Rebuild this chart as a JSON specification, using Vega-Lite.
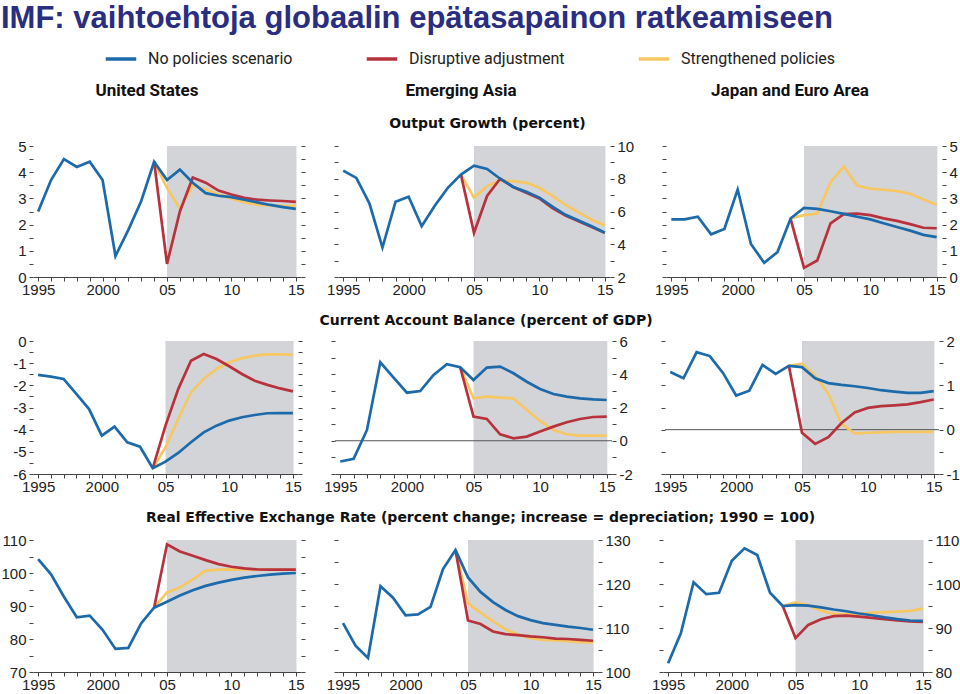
{
"$schema": "https://vega.github.io/schema/vega-lite/v6.json",
"padding": {"top": 3, "left": 0, "right": 0, "bottom": 0},
"background": "white",
"config": {"view": {"stroke": null}, "font": "Liberation Sans",
 "axis": {"grid": false, "title": null, "minExtent": 0, "labelFontSize": 15, "labelColor": "#222", "tickColor": "#444", "tickSize": 4, "labelFont": "Liberation Sans"},
 "axisX": {"labelOverlap": false, "labelFlush": false, "domainColor": "#444", "labelPadding": 1},
 "axisY": {"domain": false, "labelPadding": 3, "labelOverlap": false, "minExtent": 0}},
"title": {"text": "IMF: vaihtoehtoja globaalin epätasapainon ratkeamiseen", "anchor": "start", "frame": "bounds", "fontSize": 31, "font": "Liberation Sans", "fontWeight": "bold", "color": "#2a2d80", "offset": 7},
"resolve": {"scale": {"color": "shared"}, "legend": {"color": "shared"}},
"spacing": 6,
"datasets": {"d": [
{"p":1,"k":"S","y":2004,"v":4.4},{"p":1,"k":"S","y":2005,"v":3.4},{"p":1,"k":"S","y":2006,"v":2.6},{"p":1,"k":"S","y":2007,"v":3.5},{"p":1,"k":"S","y":2008,"v":3.35},{"p":1,"k":"S","y":2009,"v":3.15},{"p":1,"k":"S","y":2010,"v":3.0},{"p":1,"k":"S","y":2011,"v":2.85},{"p":1,"k":"S","y":2012,"v":2.75},{"p":1,"k":"S","y":2013,"v":2.73},{"p":1,"k":"S","y":2014,"v":2.72},{"p":1,"k":"S","y":2015,"v":2.72},
{"p":2,"k":"S","y":2004,"v":8.25},{"p":2,"k":"S","y":2005,"v":6.85},{"p":2,"k":"S","y":2006,"v":7.55},{"p":2,"k":"S","y":2007,"v":7.9},{"p":2,"k":"S","y":2008,"v":7.85},{"p":2,"k":"S","y":2009,"v":7.75},{"p":2,"k":"S","y":2010,"v":7.45},{"p":2,"k":"S","y":2011,"v":6.95},{"p":2,"k":"S","y":2012,"v":6.4},{"p":2,"k":"S","y":2013,"v":5.95},{"p":2,"k":"S","y":2014,"v":5.5},{"p":2,"k":"S","y":2015,"v":5.15},
{"p":3,"k":"S","y":2004,"v":2.24},{"p":3,"k":"S","y":2005,"v":2.36},{"p":3,"k":"S","y":2006,"v":2.42},{"p":3,"k":"S","y":2007,"v":3.62},{"p":3,"k":"S","y":2008,"v":4.22},{"p":3,"k":"S","y":2009,"v":3.49},{"p":3,"k":"S","y":2010,"v":3.37},{"p":3,"k":"S","y":2011,"v":3.33},{"p":3,"k":"S","y":2012,"v":3.28},{"p":3,"k":"S","y":2013,"v":3.18},{"p":3,"k":"S","y":2014,"v":2.96},{"p":3,"k":"S","y":2015,"v":2.76},
{"p":4,"k":"S","y":2004,"v":-5.74},{"p":4,"k":"S","y":2005,"v":-4.8},{"p":4,"k":"S","y":2006,"v":-3.52},{"p":4,"k":"S","y":2007,"v":-2.32},{"p":4,"k":"S","y":2008,"v":-1.71},{"p":4,"k":"S","y":2009,"v":-1.26},{"p":4,"k":"S","y":2010,"v":-0.96},{"p":4,"k":"S","y":2011,"v":-0.78},{"p":4,"k":"S","y":2012,"v":-0.66},{"p":4,"k":"S","y":2013,"v":-0.6},{"p":4,"k":"S","y":2014,"v":-0.6},{"p":4,"k":"S","y":2015,"v":-0.62},
{"p":5,"k":"S","y":2004,"v":4.42},{"p":5,"k":"S","y":2005,"v":2.55},{"p":5,"k":"S","y":2006,"v":2.65},{"p":5,"k":"S","y":2007,"v":2.59},{"p":5,"k":"S","y":2008,"v":2.55},{"p":5,"k":"S","y":2009,"v":1.85},{"p":5,"k":"S","y":2010,"v":1.19},{"p":5,"k":"S","y":2011,"v":0.65},{"p":5,"k":"S","y":2012,"v":0.39},{"p":5,"k":"S","y":2013,"v":0.31},{"p":5,"k":"S","y":2014,"v":0.31},{"p":5,"k":"S","y":2015,"v":0.31},
{"p":6,"k":"S","y":2004,"v":1.44},{"p":6,"k":"S","y":2005,"v":1.49},{"p":6,"k":"S","y":2006,"v":1.22},{"p":6,"k":"S","y":2007,"v":0.81},{"p":6,"k":"S","y":2008,"v":0.13},{"p":6,"k":"S","y":2009,"v":-0.09},{"p":6,"k":"S","y":2010,"v":-0.07},{"p":6,"k":"S","y":2011,"v":-0.06},{"p":6,"k":"S","y":2012,"v":-0.05},{"p":6,"k":"S","y":2013,"v":-0.05},{"p":6,"k":"S","y":2014,"v":-0.05},{"p":6,"k":"S","y":2015,"v":-0.05},
{"p":7,"k":"S","y":2004,"v":89.5},{"p":7,"k":"S","y":2005,"v":94.1},{"p":7,"k":"S","y":2006,"v":95.6},{"p":7,"k":"S","y":2007,"v":98.1},{"p":7,"k":"S","y":2008,"v":100.7},{"p":7,"k":"S","y":2009,"v":101.0},{"p":7,"k":"S","y":2010,"v":101.1},{"p":7,"k":"S","y":2011,"v":101.0},{"p":7,"k":"S","y":2012,"v":101.0},{"p":7,"k":"S","y":2013,"v":101.0},{"p":7,"k":"S","y":2014,"v":101.0},{"p":7,"k":"S","y":2015,"v":101.0},
{"p":8,"k":"S","y":2004,"v":127.7},{"p":8,"k":"S","y":2005,"v":115.6},{"p":8,"k":"S","y":2006,"v":113.5},{"p":8,"k":"S","y":2007,"v":111.5},{"p":8,"k":"S","y":2008,"v":109.7},{"p":8,"k":"S","y":2009,"v":108.5},{"p":8,"k":"S","y":2010,"v":107.7},{"p":8,"k":"S","y":2011,"v":107.3},{"p":8,"k":"S","y":2012,"v":107.2},{"p":8,"k":"S","y":2013,"v":107.0},{"p":8,"k":"S","y":2014,"v":106.8},{"p":8,"k":"S","y":2015,"v":106.7},
{"p":9,"k":"S","y":2004,"v":95.0},{"p":9,"k":"S","y":2005,"v":95.8},{"p":9,"k":"S","y":2006,"v":95.2},{"p":9,"k":"S","y":2007,"v":93.9},{"p":9,"k":"S","y":2008,"v":93.2},{"p":9,"k":"S","y":2009,"v":93.1},{"p":9,"k":"S","y":2010,"v":93.2},{"p":9,"k":"S","y":2011,"v":93.5},{"p":9,"k":"S","y":2012,"v":93.6},{"p":9,"k":"S","y":2013,"v":93.7},{"p":9,"k":"S","y":2014,"v":93.9},{"p":9,"k":"S","y":2015,"v":94.4},
{"p":1,"k":"D","y":2004,"v":4.4},{"p":1,"k":"D","y":2005,"v":0.5},{"p":1,"k":"D","y":2006,"v":2.5},{"p":1,"k":"D","y":2007,"v":3.8},{"p":1,"k":"D","y":2008,"v":3.6},{"p":1,"k":"D","y":2009,"v":3.3},{"p":1,"k":"D","y":2010,"v":3.15},{"p":1,"k":"D","y":2011,"v":3.02},{"p":1,"k":"D","y":2012,"v":2.95},{"p":1,"k":"D","y":2013,"v":2.92},{"p":1,"k":"D","y":2014,"v":2.9},{"p":1,"k":"D","y":2015,"v":2.87},
{"p":2,"k":"D","y":2004,"v":8.25},{"p":2,"k":"D","y":2005,"v":4.7},{"p":2,"k":"D","y":2006,"v":6.95},{"p":2,"k":"D","y":2007,"v":8.0},{"p":2,"k":"D","y":2008,"v":7.5},{"p":2,"k":"D","y":2009,"v":7.15},{"p":2,"k":"D","y":2010,"v":6.8},{"p":2,"k":"D","y":2011,"v":6.2},{"p":2,"k":"D","y":2012,"v":5.75},{"p":2,"k":"D","y":2013,"v":5.4},{"p":2,"k":"D","y":2014,"v":5.05},{"p":2,"k":"D","y":2015,"v":4.7},
{"p":3,"k":"D","y":2004,"v":2.2},{"p":3,"k":"D","y":2005,"v":0.35},{"p":3,"k":"D","y":2006,"v":0.63},{"p":3,"k":"D","y":2007,"v":2.05},{"p":3,"k":"D","y":2008,"v":2.4},{"p":3,"k":"D","y":2009,"v":2.42},{"p":3,"k":"D","y":2010,"v":2.36},{"p":3,"k":"D","y":2011,"v":2.24},{"p":3,"k":"D","y":2012,"v":2.14},{"p":3,"k":"D","y":2013,"v":2.02},{"p":3,"k":"D","y":2014,"v":1.88},{"p":3,"k":"D","y":2015,"v":1.86},
{"p":4,"k":"D","y":2004,"v":-5.74},{"p":4,"k":"D","y":2005,"v":-3.82},{"p":4,"k":"D","y":2006,"v":-2.17},{"p":4,"k":"D","y":2007,"v":-0.89},{"p":4,"k":"D","y":2008,"v":-0.59},{"p":4,"k":"D","y":2009,"v":-0.81},{"p":4,"k":"D","y":2010,"v":-1.14},{"p":4,"k":"D","y":2011,"v":-1.49},{"p":4,"k":"D","y":2012,"v":-1.79},{"p":4,"k":"D","y":2013,"v":-1.98},{"p":4,"k":"D","y":2014,"v":-2.14},{"p":4,"k":"D","y":2015,"v":-2.27},
{"p":5,"k":"D","y":2004,"v":4.42},{"p":5,"k":"D","y":2005,"v":1.45},{"p":5,"k":"D","y":2006,"v":1.31},{"p":5,"k":"D","y":2007,"v":0.39},{"p":5,"k":"D","y":2008,"v":0.15},{"p":5,"k":"D","y":2009,"v":0.25},{"p":5,"k":"D","y":2010,"v":0.55},{"p":5,"k":"D","y":2011,"v":0.85},{"p":5,"k":"D","y":2012,"v":1.11},{"p":5,"k":"D","y":2013,"v":1.31},{"p":5,"k":"D","y":2014,"v":1.43},{"p":5,"k":"D","y":2015,"v":1.45},
{"p":6,"k":"D","y":2004,"v":1.44},{"p":6,"k":"D","y":2005,"v":-0.07},{"p":6,"k":"D","y":2006,"v":-0.32},{"p":6,"k":"D","y":2007,"v":-0.17},{"p":6,"k":"D","y":2008,"v":0.15},{"p":6,"k":"D","y":2009,"v":0.39},{"p":6,"k":"D","y":2010,"v":0.49},{"p":6,"k":"D","y":2011,"v":0.53},{"p":6,"k":"D","y":2012,"v":0.55},{"p":6,"k":"D","y":2013,"v":0.57},{"p":6,"k":"D","y":2014,"v":0.62},{"p":6,"k":"D","y":2015,"v":0.68},
{"p":7,"k":"D","y":2004,"v":89.5},{"p":7,"k":"D","y":2005,"v":108.7},{"p":7,"k":"D","y":2006,"v":106.5},{"p":7,"k":"D","y":2007,"v":105.2},{"p":7,"k":"D","y":2008,"v":103.9},{"p":7,"k":"D","y":2009,"v":102.7},{"p":7,"k":"D","y":2010,"v":101.9},{"p":7,"k":"D","y":2011,"v":101.4},{"p":7,"k":"D","y":2012,"v":101.1},{"p":7,"k":"D","y":2013,"v":101.0},{"p":7,"k":"D","y":2014,"v":101.0},{"p":7,"k":"D","y":2015,"v":101.0},
{"p":8,"k":"D","y":2004,"v":127.7},{"p":8,"k":"D","y":2005,"v":111.7},{"p":8,"k":"D","y":2006,"v":110.9},{"p":8,"k":"D","y":2007,"v":109.2},{"p":8,"k":"D","y":2008,"v":108.6},{"p":8,"k":"D","y":2009,"v":108.4},{"p":8,"k":"D","y":2010,"v":108.1},{"p":8,"k":"D","y":2011,"v":107.9},{"p":8,"k":"D","y":2012,"v":107.6},{"p":8,"k":"D","y":2013,"v":107.5},{"p":8,"k":"D","y":2014,"v":107.3},{"p":8,"k":"D","y":2015,"v":107.1},
{"p":9,"k":"D","y":2004,"v":95.0},{"p":9,"k":"D","y":2005,"v":87.7},{"p":9,"k":"D","y":2006,"v":90.7},{"p":9,"k":"D","y":2007,"v":92.0},{"p":9,"k":"D","y":2008,"v":92.7},{"p":9,"k":"D","y":2009,"v":92.8},{"p":9,"k":"D","y":2010,"v":92.6},{"p":9,"k":"D","y":2011,"v":92.3},{"p":9,"k":"D","y":2012,"v":92.0},{"p":9,"k":"D","y":2013,"v":91.7},{"p":9,"k":"D","y":2014,"v":91.5},{"p":9,"k":"D","y":2015,"v":91.4},
{"p":1,"k":"N","y":1995,"v":2.5},{"p":1,"k":"N","y":1996,"v":3.7},{"p":1,"k":"N","y":1997,"v":4.5},{"p":1,"k":"N","y":1998,"v":4.2},{"p":1,"k":"N","y":1999,"v":4.4},{"p":1,"k":"N","y":2000,"v":3.7},{"p":1,"k":"N","y":2001,"v":0.8},{"p":1,"k":"N","y":2002,"v":1.8},{"p":1,"k":"N","y":2003,"v":2.9},{"p":1,"k":"N","y":2004,"v":4.4},{"p":1,"k":"N","y":2005,"v":3.7},{"p":1,"k":"N","y":2006,"v":4.1},{"p":1,"k":"N","y":2007,"v":3.6},{"p":1,"k":"N","y":2008,"v":3.2},{"p":1,"k":"N","y":2009,"v":3.1},{"p":1,"k":"N","y":2010,"v":3.05},{"p":1,"k":"N","y":2011,"v":2.95},{"p":1,"k":"N","y":2012,"v":2.85},{"p":1,"k":"N","y":2013,"v":2.75},{"p":1,"k":"N","y":2014,"v":2.67},{"p":1,"k":"N","y":2015,"v":2.6},
{"p":2,"k":"N","y":1995,"v":8.5},{"p":2,"k":"N","y":1996,"v":8.05},{"p":2,"k":"N","y":1997,"v":6.5},{"p":2,"k":"N","y":1998,"v":3.8},{"p":2,"k":"N","y":1999,"v":6.6},{"p":2,"k":"N","y":2000,"v":6.9},{"p":2,"k":"N","y":2001,"v":5.1},{"p":2,"k":"N","y":2002,"v":6.35},{"p":2,"k":"N","y":2003,"v":7.45},{"p":2,"k":"N","y":2004,"v":8.25},{"p":2,"k":"N","y":2005,"v":8.8},{"p":2,"k":"N","y":2006,"v":8.6},{"p":2,"k":"N","y":2007,"v":8.0},{"p":2,"k":"N","y":2008,"v":7.5},{"p":2,"k":"N","y":2009,"v":7.2},{"p":2,"k":"N","y":2010,"v":6.85},{"p":2,"k":"N","y":2011,"v":6.3},{"p":2,"k":"N","y":2012,"v":5.8},{"p":2,"k":"N","y":2013,"v":5.45},{"p":2,"k":"N","y":2014,"v":5.1},{"p":2,"k":"N","y":2015,"v":4.7},
{"p":3,"k":"N","y":1995,"v":2.2},{"p":3,"k":"N","y":1996,"v":2.2},{"p":3,"k":"N","y":1997,"v":2.3},{"p":3,"k":"N","y":1998,"v":1.63},{"p":3,"k":"N","y":1999,"v":1.83},{"p":3,"k":"N","y":2000,"v":3.34},{"p":3,"k":"N","y":2001,"v":1.26},{"p":3,"k":"N","y":2002,"v":0.54},{"p":3,"k":"N","y":2003,"v":0.95},{"p":3,"k":"N","y":2004,"v":2.24},{"p":3,"k":"N","y":2005,"v":2.64},{"p":3,"k":"N","y":2006,"v":2.6},{"p":3,"k":"N","y":2007,"v":2.51},{"p":3,"k":"N","y":2008,"v":2.41},{"p":3,"k":"N","y":2009,"v":2.3},{"p":3,"k":"N","y":2010,"v":2.2},{"p":3,"k":"N","y":2011,"v":2.05},{"p":3,"k":"N","y":2012,"v":1.91},{"p":3,"k":"N","y":2013,"v":1.77},{"p":3,"k":"N","y":2014,"v":1.61},{"p":3,"k":"N","y":2015,"v":1.52},
{"p":4,"k":"N","y":1995,"v":-1.53},{"p":4,"k":"N","y":1996,"v":-1.61},{"p":4,"k":"N","y":1997,"v":-1.71},{"p":4,"k":"N","y":1998,"v":-2.39},{"p":4,"k":"N","y":1999,"v":-3.07},{"p":4,"k":"N","y":2000,"v":-4.27},{"p":4,"k":"N","y":2001,"v":-3.86},{"p":4,"k":"N","y":2002,"v":-4.57},{"p":4,"k":"N","y":2003,"v":-4.77},{"p":4,"k":"N","y":2004,"v":-5.74},{"p":4,"k":"N","y":2005,"v":-5.44},{"p":4,"k":"N","y":2006,"v":-5.05},{"p":4,"k":"N","y":2007,"v":-4.57},{"p":4,"k":"N","y":2008,"v":-4.12},{"p":4,"k":"N","y":2009,"v":-3.82},{"p":4,"k":"N","y":2010,"v":-3.59},{"p":4,"k":"N","y":2011,"v":-3.44},{"p":4,"k":"N","y":2012,"v":-3.34},{"p":4,"k":"N","y":2013,"v":-3.26},{"p":4,"k":"N","y":2014,"v":-3.25},{"p":4,"k":"N","y":2015,"v":-3.25},
{"p":5,"k":"N","y":1995,"v":-1.25},{"p":5,"k":"N","y":1996,"v":-1.09},{"p":5,"k":"N","y":1997,"v":0.65},{"p":5,"k":"N","y":1998,"v":4.72},{"p":5,"k":"N","y":1999,"v":3.8},{"p":5,"k":"N","y":2000,"v":2.89},{"p":5,"k":"N","y":2001,"v":2.99},{"p":5,"k":"N","y":2002,"v":3.96},{"p":5,"k":"N","y":2003,"v":4.6},{"p":5,"k":"N","y":2004,"v":4.42},{"p":5,"k":"N","y":2005,"v":3.65},{"p":5,"k":"N","y":2006,"v":4.4},{"p":5,"k":"N","y":2007,"v":4.46},{"p":5,"k":"N","y":2008,"v":4.06},{"p":5,"k":"N","y":2009,"v":3.55},{"p":5,"k":"N","y":2010,"v":3.11},{"p":5,"k":"N","y":2011,"v":2.81},{"p":5,"k":"N","y":2012,"v":2.65},{"p":5,"k":"N","y":2013,"v":2.55},{"p":5,"k":"N","y":2014,"v":2.49},{"p":5,"k":"N","y":2015,"v":2.45},
{"p":6,"k":"N","y":1995,"v":1.3},{"p":6,"k":"N","y":1996,"v":1.16},{"p":6,"k":"N","y":1997,"v":1.75},{"p":6,"k":"N","y":1998,"v":1.66},{"p":6,"k":"N","y":1999,"v":1.28},{"p":6,"k":"N","y":2000,"v":0.77},{"p":6,"k":"N","y":2001,"v":0.88},{"p":6,"k":"N","y":2002,"v":1.46},{"p":6,"k":"N","y":2003,"v":1.26},{"p":6,"k":"N","y":2004,"v":1.44},{"p":6,"k":"N","y":2005,"v":1.41},{"p":6,"k":"N","y":2006,"v":1.16},{"p":6,"k":"N","y":2007,"v":1.05},{"p":6,"k":"N","y":2008,"v":1.01},{"p":6,"k":"N","y":2009,"v":0.98},{"p":6,"k":"N","y":2010,"v":0.94},{"p":6,"k":"N","y":2011,"v":0.89},{"p":6,"k":"N","y":2012,"v":0.86},{"p":6,"k":"N","y":2013,"v":0.83},{"p":6,"k":"N","y":2014,"v":0.83},{"p":6,"k":"N","y":2015,"v":0.87},
{"p":7,"k":"N","y":1995,"v":104.2},{"p":7,"k":"N","y":1996,"v":99.6},{"p":7,"k":"N","y":1997,"v":92.8},{"p":7,"k":"N","y":1998,"v":86.6},{"p":7,"k":"N","y":1999,"v":87.1},{"p":7,"k":"N","y":2000,"v":82.8},{"p":7,"k":"N","y":2001,"v":77.0},{"p":7,"k":"N","y":2002,"v":77.3},{"p":7,"k":"N","y":2003,"v":84.8},{"p":7,"k":"N","y":2004,"v":89.5},{"p":7,"k":"N","y":2005,"v":91.3},{"p":7,"k":"N","y":2006,"v":93.2},{"p":7,"k":"N","y":2007,"v":94.8},{"p":7,"k":"N","y":2008,"v":96.1},{"p":7,"k":"N","y":2009,"v":97.1},{"p":7,"k":"N","y":2010,"v":97.9},{"p":7,"k":"N","y":2011,"v":98.6},{"p":7,"k":"N","y":2012,"v":99.1},{"p":7,"k":"N","y":2013,"v":99.5},{"p":7,"k":"N","y":2014,"v":99.8},{"p":7,"k":"N","y":2015,"v":100.0},
{"p":8,"k":"N","y":1995,"v":111.1},{"p":8,"k":"N","y":1996,"v":106.0},{"p":8,"k":"N","y":1997,"v":103.2},{"p":8,"k":"N","y":1998,"v":119.5},{"p":8,"k":"N","y":1999,"v":116.9},{"p":8,"k":"N","y":2000,"v":112.9},{"p":8,"k":"N","y":2001,"v":113.1},{"p":8,"k":"N","y":2002,"v":114.8},{"p":8,"k":"N","y":2003,"v":123.4},{"p":8,"k":"N","y":2004,"v":127.7},{"p":8,"k":"N","y":2005,"v":121.5},{"p":8,"k":"N","y":2006,"v":118.2},{"p":8,"k":"N","y":2007,"v":115.9},{"p":8,"k":"N","y":2008,"v":114.1},{"p":8,"k":"N","y":2009,"v":112.7},{"p":8,"k":"N","y":2010,"v":111.8},{"p":8,"k":"N","y":2011,"v":111.1},{"p":8,"k":"N","y":2012,"v":110.7},{"p":8,"k":"N","y":2013,"v":110.3},{"p":8,"k":"N","y":2014,"v":110.0},{"p":8,"k":"N","y":2015,"v":109.6},
{"p":9,"k":"N","y":1995,"v":82.0},{"p":9,"k":"N","y":1996,"v":88.8},{"p":9,"k":"N","y":1997,"v":100.4},{"p":9,"k":"N","y":1998,"v":97.7},{"p":9,"k":"N","y":1999,"v":98.0},{"p":9,"k":"N","y":2000,"v":105.3},{"p":9,"k":"N","y":2001,"v":108.1},{"p":9,"k":"N","y":2002,"v":106.6},{"p":9,"k":"N","y":2003,"v":98.0},{"p":9,"k":"N","y":2004,"v":95.0},{"p":9,"k":"N","y":2005,"v":95.2},{"p":9,"k":"N","y":2006,"v":95.1},{"p":9,"k":"N","y":2007,"v":94.7},{"p":9,"k":"N","y":2008,"v":94.2},{"p":9,"k":"N","y":2009,"v":93.8},{"p":9,"k":"N","y":2010,"v":93.3},{"p":9,"k":"N","y":2011,"v":92.9},{"p":9,"k":"N","y":2012,"v":92.4},{"p":9,"k":"N","y":2013,"v":92.0},{"p":9,"k":"N","y":2014,"v":91.7},{"p":9,"k":"N","y":2015,"v":91.6}
]},
"vconcat": [
{"spacing": 26, "hconcat": [
 {"width": 228, "height": 1, "data": {"values": [{}]}, "mark": {"type": "text", "text": ""}, "encoding": {}, "title": {"text": "United States", "font": "Roboto", "fontSize": 17, "fontWeight": "bold", "color": "#111", "anchor": "middle", "offset": 0}},
 {"width": 348, "height": 1, "data": {"values": [{}]}, "mark": {"type": "text", "text": ""}, "encoding": {}, "title": {"text": "Emerging Asia", "font": "Roboto", "fontSize": 17, "fontWeight": "bold", "color": "#111", "anchor": "middle", "offset": 0}},
 {"width": 258, "height": 1, "data": {"values": [{}]}, "mark": {"type": "text", "text": ""}, "encoding": {}, "title": {"text": "Japan and Euro Area", "font": "Roboto", "fontSize": 17, "fontWeight": "bold", "color": "#111", "anchor": "middle", "offset": 0}}
]},
{"spacing": 17,
 "resolve": {"scale": {"color": "shared"}, "legend": {"color": "shared"}},
 "vconcat": [
{"title": {"text": "Output Growth (percent)", "anchor": "middle", "fontSize": 14, "font": "DejaVu Sans", "fontWeight": "bold", "color": "#111", "offset": 8},
 "spacing": 20,
 "resolve": {"scale": {"color": "shared"}, "legend": {"color": "shared"}},
 "hconcat": [
 {"width": 268, "height": 131, "layer": [
  {"data": {"values": [{"a": 2005, "b": 2015.05}]}, "mark": {"type": "rect", "color": "#d3d4d8"}, "encoding": {"x": {"field": "a", "type": "quantitative", "scale": {"domain": [1994.6, 2015.4], "nice": false, "zero": false}, "axis": {"values": [1995,1996,1997,1998,1999,2000,2001,2002,2003,2004,2005,2006,2007,2008,2009,2010,2011,2012,2013,2014,2015], "labelExpr": "datum.value % 5 != 0 ? '' : (datum.value < 2001 ? '' + datum.value : (datum.value == 2005 ? '05' : '' + (datum.value - 2000)))", "labelOverlap": false, "labelFlush": false}}, "x2": {"field": "b"}}},
  {"data": {"name": "d"}, "transform": [{"filter": "datum.p == 1"}], "mark": {"type": "line", "strokeWidth": 2.7}, "encoding": {"x": {"field": "y", "type": "quantitative", "scale": {"domain": [1994.6, 2015.4], "nice": false, "zero": false}, "axis": {"values": [1995,1996,1997,1998,1999,2000,2001,2002,2003,2004,2005,2006,2007,2008,2009,2010,2011,2012,2013,2014,2015], "labelExpr": "datum.value % 5 != 0 ? '' : (datum.value < 2001 ? '' + datum.value : (datum.value == 2005 ? '05' : '' + (datum.value - 2000)))", "labelOverlap": false, "labelFlush": false}}, "y": {"field": "v", "type": "quantitative", "scale": {"domain": [0, 5], "nice": false, "zero": false}, "axis": {"orient": "left", "values": [0,0.5,1,1.5,2,2.5,3,3.5,4,4.5,5], "labelExpr": "datum.value % 1 === 0 ? '' + datum.value : ''"}}, "color": {"field": "k", "type": "nominal", "scale": {"domain": ["N", "D", "S"], "range": ["#1c6aaa", "#b7323c", "#f6c762"]}, "legend": {"orient": "none", "legendX": 71, "legendY": -63, "direction": "horizontal", "title": null, "symbolType": "stroke", "symbolStrokeWidth": 3.5, "symbolSize": 930, "labelFont": "Roboto", "labelFontSize": 16, "labelColor": "#222", "labelOffset": 10, "columnPadding": 66, "labelExpr": "datum.label == 'N' ? 'No policies scenario' : datum.label == 'D' ? 'Disruptive adjustment' : 'Strengthened policies'"}}}},
  {"data": {"name": "d"}, "transform": [{"filter": "datum.p == 1"}], "mark": {"type": "line", "opacity": 0}, "encoding": {"x": {"field": "y", "type": "quantitative", "scale": {"domain": [1994.6, 2015.4], "nice": false, "zero": false}, "axis": {"values": [1995,1996,1997,1998,1999,2000,2001,2002,2003,2004,2005,2006,2007,2008,2009,2010,2011,2012,2013,2014,2015], "labelExpr": "datum.value % 5 != 0 ? '' : (datum.value < 2001 ? '' + datum.value : (datum.value == 2005 ? '05' : '' + (datum.value - 2000)))", "labelOverlap": false, "labelFlush": false}}, "y": {"field": "v", "type": "quantitative", "scale": {"domain": [0, 5], "nice": false, "zero": false}, "axis": {"orient": "right", "values": [0,0.5,1,1.5,2,2.5,3,3.5,4,4.5,5], "labels": false}}, "detail": {"field": "k"}}}
 ], "resolve": {"scale": {"y": "independent"}, "axis": {"y": "independent"}}},
 {"width": 272, "height": 131, "layer": [
  {"data": {"values": [{"a": 2005, "b": 2015.05}]}, "mark": {"type": "rect", "color": "#d3d4d8"}, "encoding": {"x": {"field": "a", "type": "quantitative", "scale": {"domain": [1994.6, 2015.4], "nice": false, "zero": false}, "axis": {"values": [1995,1996,1997,1998,1999,2000,2001,2002,2003,2004,2005,2006,2007,2008,2009,2010,2011,2012,2013,2014,2015], "labelExpr": "datum.value % 5 != 0 ? '' : (datum.value < 2001 ? '' + datum.value : (datum.value == 2005 ? '05' : '' + (datum.value - 2000)))", "labelOverlap": false, "labelFlush": false}}, "x2": {"field": "b"}}},
  {"data": {"name": "d"}, "transform": [{"filter": "datum.p == 2"}], "mark": {"type": "line", "strokeWidth": 2.7}, "encoding": {"x": {"field": "y", "type": "quantitative", "scale": {"domain": [1994.6, 2015.4], "nice": false, "zero": false}, "axis": {"values": [1995,1996,1997,1998,1999,2000,2001,2002,2003,2004,2005,2006,2007,2008,2009,2010,2011,2012,2013,2014,2015], "labelExpr": "datum.value % 5 != 0 ? '' : (datum.value < 2001 ? '' + datum.value : (datum.value == 2005 ? '05' : '' + (datum.value - 2000)))", "labelOverlap": false, "labelFlush": false}}, "y": {"field": "v", "type": "quantitative", "scale": {"domain": [2, 10], "nice": false, "zero": false}, "axis": {"orient": "left", "values": [2,3,4,5,6,7,8,9,10], "labels": false}}, "color": {"field": "k", "type": "nominal", "scale": {"domain": ["N", "D", "S"], "range": ["#1c6aaa", "#b7323c", "#f6c762"]}, "legend": {"orient": "none", "legendX": 71, "legendY": -63, "direction": "horizontal", "title": null, "symbolType": "stroke", "symbolStrokeWidth": 3.5, "symbolSize": 930, "labelFont": "Roboto", "labelFontSize": 16, "labelColor": "#222", "labelOffset": 10, "columnPadding": 66, "labelExpr": "datum.label == 'N' ? 'No policies scenario' : datum.label == 'D' ? 'Disruptive adjustment' : 'Strengthened policies'"}}}},
  {"data": {"name": "d"}, "transform": [{"filter": "datum.p == 2"}], "mark": {"type": "line", "opacity": 0}, "encoding": {"x": {"field": "y", "type": "quantitative", "scale": {"domain": [1994.6, 2015.4], "nice": false, "zero": false}, "axis": {"values": [1995,1996,1997,1998,1999,2000,2001,2002,2003,2004,2005,2006,2007,2008,2009,2010,2011,2012,2013,2014,2015], "labelExpr": "datum.value % 5 != 0 ? '' : (datum.value < 2001 ? '' + datum.value : (datum.value == 2005 ? '05' : '' + (datum.value - 2000)))", "labelOverlap": false, "labelFlush": false}}, "y": {"field": "v", "type": "quantitative", "scale": {"domain": [2, 10], "nice": false, "zero": false}, "axis": {"orient": "right", "values": [2,3,4,5,6,7,8,9,10], "labelExpr": "datum.value % 2 === 0 ? '' + datum.value : ''"}}, "detail": {"field": "k"}}}
 ], "resolve": {"scale": {"y": "independent"}, "axis": {"y": "independent"}}},
 {"width": 276, "height": 131, "layer": [
  {"data": {"values": [{"a": 2005, "b": 2015.05}]}, "mark": {"type": "rect", "color": "#d3d4d8"}, "encoding": {"x": {"field": "a", "type": "quantitative", "scale": {"domain": [1994.6, 2015.4], "nice": false, "zero": false}, "axis": {"values": [1995,1996,1997,1998,1999,2000,2001,2002,2003,2004,2005,2006,2007,2008,2009,2010,2011,2012,2013,2014,2015], "labelExpr": "datum.value % 5 != 0 ? '' : (datum.value < 2001 ? '' + datum.value : (datum.value == 2005 ? '05' : '' + (datum.value - 2000)))", "labelOverlap": false, "labelFlush": false}}, "x2": {"field": "b"}}},
  {"data": {"name": "d"}, "transform": [{"filter": "datum.p == 3"}], "mark": {"type": "line", "strokeWidth": 2.7}, "encoding": {"x": {"field": "y", "type": "quantitative", "scale": {"domain": [1994.6, 2015.4], "nice": false, "zero": false}, "axis": {"values": [1995,1996,1997,1998,1999,2000,2001,2002,2003,2004,2005,2006,2007,2008,2009,2010,2011,2012,2013,2014,2015], "labelExpr": "datum.value % 5 != 0 ? '' : (datum.value < 2001 ? '' + datum.value : (datum.value == 2005 ? '05' : '' + (datum.value - 2000)))", "labelOverlap": false, "labelFlush": false}}, "y": {"field": "v", "type": "quantitative", "scale": {"domain": [0, 5], "nice": false, "zero": false}, "axis": {"orient": "left", "values": [0,0.5,1,1.5,2,2.5,3,3.5,4,4.5,5], "labels": false}}, "color": {"field": "k", "type": "nominal", "scale": {"domain": ["N", "D", "S"], "range": ["#1c6aaa", "#b7323c", "#f6c762"]}, "legend": {"orient": "none", "legendX": 71, "legendY": -63, "direction": "horizontal", "title": null, "symbolType": "stroke", "symbolStrokeWidth": 3.5, "symbolSize": 930, "labelFont": "Roboto", "labelFontSize": 16, "labelColor": "#222", "labelOffset": 10, "columnPadding": 66, "labelExpr": "datum.label == 'N' ? 'No policies scenario' : datum.label == 'D' ? 'Disruptive adjustment' : 'Strengthened policies'"}}}},
  {"data": {"name": "d"}, "transform": [{"filter": "datum.p == 3"}], "mark": {"type": "line", "opacity": 0}, "encoding": {"x": {"field": "y", "type": "quantitative", "scale": {"domain": [1994.6, 2015.4], "nice": false, "zero": false}, "axis": {"values": [1995,1996,1997,1998,1999,2000,2001,2002,2003,2004,2005,2006,2007,2008,2009,2010,2011,2012,2013,2014,2015], "labelExpr": "datum.value % 5 != 0 ? '' : (datum.value < 2001 ? '' + datum.value : (datum.value == 2005 ? '05' : '' + (datum.value - 2000)))", "labelOverlap": false, "labelFlush": false}}, "y": {"field": "v", "type": "quantitative", "scale": {"domain": [0, 5], "nice": false, "zero": false}, "axis": {"orient": "right", "values": [0,0.5,1,1.5,2,2.5,3,3.5,4,4.5,5], "labelExpr": "datum.value % 1 === 0 ? '' + datum.value : ''"}}, "detail": {"field": "k"}}}
 ], "resolve": {"scale": {"y": "independent"}, "axis": {"y": "independent"}}}
]},
{"title": {"text": "Current Account Balance (percent of GDP)", "anchor": "middle", "fontSize": 14, "font": "DejaVu Sans", "fontWeight": "bold", "color": "#111", "offset": 6},
 "spacing": 20,
 "resolve": {"scale": {"color": "shared"}, "legend": {"color": "shared"}},
 "hconcat": [
 {"width": 265, "height": 133, "layer": [
  {"data": {"values": [{"a": 2005, "b": 2015.05}]}, "mark": {"type": "rect", "color": "#d3d4d8"}, "encoding": {"x": {"field": "a", "type": "quantitative", "scale": {"domain": [1994.6, 2015.4], "nice": false, "zero": false}, "axis": {"values": [1995,1996,1997,1998,1999,2000,2001,2002,2003,2004,2005,2006,2007,2008,2009,2010,2011,2012,2013,2014,2015], "labelExpr": "datum.value % 5 != 0 ? '' : (datum.value < 2001 ? '' + datum.value : (datum.value == 2005 ? '05' : '' + (datum.value - 2000)))", "labelOverlap": false, "labelFlush": false}}, "x2": {"field": "b"}}},
  {"data": {"name": "d"}, "transform": [{"filter": "datum.p == 4"}], "mark": {"type": "line", "strokeWidth": 2.7}, "encoding": {"x": {"field": "y", "type": "quantitative", "scale": {"domain": [1994.6, 2015.4], "nice": false, "zero": false}, "axis": {"values": [1995,1996,1997,1998,1999,2000,2001,2002,2003,2004,2005,2006,2007,2008,2009,2010,2011,2012,2013,2014,2015], "labelExpr": "datum.value % 5 != 0 ? '' : (datum.value < 2001 ? '' + datum.value : (datum.value == 2005 ? '05' : '' + (datum.value - 2000)))", "labelOverlap": false, "labelFlush": false}}, "y": {"field": "v", "type": "quantitative", "scale": {"domain": [-6, 0], "nice": false, "zero": false}, "axis": {"orient": "left", "values": [-6,-5.5,-5,-4.5,-4,-3.5,-3,-2.5,-2,-1.5,-1,-0.5,0], "labelExpr": "datum.value % 1 === 0 ? '' + datum.value : ''"}}, "color": {"field": "k", "type": "nominal", "scale": {"domain": ["N", "D", "S"], "range": ["#1c6aaa", "#b7323c", "#f6c762"]}, "legend": {"orient": "none", "legendX": 71, "legendY": -63, "direction": "horizontal", "title": null, "symbolType": "stroke", "symbolStrokeWidth": 3.5, "symbolSize": 930, "labelFont": "Roboto", "labelFontSize": 16, "labelColor": "#222", "labelOffset": 10, "columnPadding": 66, "labelExpr": "datum.label == 'N' ? 'No policies scenario' : datum.label == 'D' ? 'Disruptive adjustment' : 'Strengthened policies'"}}}},
  {"data": {"name": "d"}, "transform": [{"filter": "datum.p == 4"}], "mark": {"type": "line", "opacity": 0}, "encoding": {"x": {"field": "y", "type": "quantitative", "scale": {"domain": [1994.6, 2015.4], "nice": false, "zero": false}, "axis": {"values": [1995,1996,1997,1998,1999,2000,2001,2002,2003,2004,2005,2006,2007,2008,2009,2010,2011,2012,2013,2014,2015], "labelExpr": "datum.value % 5 != 0 ? '' : (datum.value < 2001 ? '' + datum.value : (datum.value == 2005 ? '05' : '' + (datum.value - 2000)))", "labelOverlap": false, "labelFlush": false}}, "y": {"field": "v", "type": "quantitative", "scale": {"domain": [-6, 0], "nice": false, "zero": false}, "axis": {"orient": "right", "values": [-6,-5.5,-5,-4.5,-4,-3.5,-3,-2.5,-2,-1.5,-1,-0.5,0], "labels": false}}, "detail": {"field": "k"}}}
 ], "resolve": {"scale": {"y": "independent"}, "axis": {"y": "independent"}}},
 {"width": 277, "height": 133, "layer": [
  {"data": {"values": [{"a": 2005, "b": 2015.05}]}, "mark": {"type": "rect", "color": "#d3d4d8"}, "encoding": {"x": {"field": "a", "type": "quantitative", "scale": {"domain": [1994.6, 2015.4], "nice": false, "zero": false}, "axis": {"values": [1995,1996,1997,1998,1999,2000,2001,2002,2003,2004,2005,2006,2007,2008,2009,2010,2011,2012,2013,2014,2015], "labelExpr": "datum.value % 5 != 0 ? '' : (datum.value < 2001 ? '' + datum.value : (datum.value == 2005 ? '05' : '' + (datum.value - 2000)))", "labelOverlap": false, "labelFlush": false}}, "x2": {"field": "b"}}},
  {"data": {"values": [{"z": 0}]}, "mark": {"type": "rule", "color": "#555", "strokeWidth": 1}, "encoding": {"y": {"field": "z", "type": "quantitative", "scale": {"domain": [-2, 6], "nice": false, "zero": false}, "axis": null}}},
  {"data": {"name": "d"}, "transform": [{"filter": "datum.p == 5"}], "mark": {"type": "line", "strokeWidth": 2.7}, "encoding": {"x": {"field": "y", "type": "quantitative", "scale": {"domain": [1994.6, 2015.4], "nice": false, "zero": false}, "axis": {"values": [1995,1996,1997,1998,1999,2000,2001,2002,2003,2004,2005,2006,2007,2008,2009,2010,2011,2012,2013,2014,2015], "labelExpr": "datum.value % 5 != 0 ? '' : (datum.value < 2001 ? '' + datum.value : (datum.value == 2005 ? '05' : '' + (datum.value - 2000)))", "labelOverlap": false, "labelFlush": false}}, "y": {"field": "v", "type": "quantitative", "scale": {"domain": [-2, 6], "nice": false, "zero": false}, "axis": {"orient": "left", "values": [-2,-1,0,1,2,3,4,5,6], "labels": false}}, "color": {"field": "k", "type": "nominal", "scale": {"domain": ["N", "D", "S"], "range": ["#1c6aaa", "#b7323c", "#f6c762"]}, "legend": {"orient": "none", "legendX": 71, "legendY": -63, "direction": "horizontal", "title": null, "symbolType": "stroke", "symbolStrokeWidth": 3.5, "symbolSize": 930, "labelFont": "Roboto", "labelFontSize": 16, "labelColor": "#222", "labelOffset": 10, "columnPadding": 66, "labelExpr": "datum.label == 'N' ? 'No policies scenario' : datum.label == 'D' ? 'Disruptive adjustment' : 'Strengthened policies'"}}}},
  {"data": {"name": "d"}, "transform": [{"filter": "datum.p == 5"}], "mark": {"type": "line", "opacity": 0}, "encoding": {"x": {"field": "y", "type": "quantitative", "scale": {"domain": [1994.6, 2015.4], "nice": false, "zero": false}, "axis": {"values": [1995,1996,1997,1998,1999,2000,2001,2002,2003,2004,2005,2006,2007,2008,2009,2010,2011,2012,2013,2014,2015], "labelExpr": "datum.value % 5 != 0 ? '' : (datum.value < 2001 ? '' + datum.value : (datum.value == 2005 ? '05' : '' + (datum.value - 2000)))", "labelOverlap": false, "labelFlush": false}}, "y": {"field": "v", "type": "quantitative", "scale": {"domain": [-2, 6], "nice": false, "zero": false}, "axis": {"orient": "right", "values": [-2,-1,0,1,2,3,4,5,6], "labelExpr": "datum.value % 2 === 0 ? '' + datum.value : ''"}}, "detail": {"field": "k"}}}
 ], "resolve": {"scale": {"y": "independent"}, "axis": {"y": "independent"}}},
 {"width": 274, "height": 133, "layer": [
  {"data": {"values": [{"a": 2005, "b": 2015.05}]}, "mark": {"type": "rect", "color": "#d3d4d8"}, "encoding": {"x": {"field": "a", "type": "quantitative", "scale": {"domain": [1994.6, 2015.4], "nice": false, "zero": false}, "axis": {"values": [1995,1996,1997,1998,1999,2000,2001,2002,2003,2004,2005,2006,2007,2008,2009,2010,2011,2012,2013,2014,2015], "labelExpr": "datum.value % 5 != 0 ? '' : (datum.value < 2001 ? '' + datum.value : (datum.value == 2005 ? '05' : '' + (datum.value - 2000)))", "labelOverlap": false, "labelFlush": false}}, "x2": {"field": "b"}}},
  {"data": {"values": [{"z": 0}]}, "mark": {"type": "rule", "color": "#555", "strokeWidth": 1}, "encoding": {"y": {"field": "z", "type": "quantitative", "scale": {"domain": [-1, 2], "nice": false, "zero": false}, "axis": null}}},
  {"data": {"name": "d"}, "transform": [{"filter": "datum.p == 6"}], "mark": {"type": "line", "strokeWidth": 2.7}, "encoding": {"x": {"field": "y", "type": "quantitative", "scale": {"domain": [1994.6, 2015.4], "nice": false, "zero": false}, "axis": {"values": [1995,1996,1997,1998,1999,2000,2001,2002,2003,2004,2005,2006,2007,2008,2009,2010,2011,2012,2013,2014,2015], "labelExpr": "datum.value % 5 != 0 ? '' : (datum.value < 2001 ? '' + datum.value : (datum.value == 2005 ? '05' : '' + (datum.value - 2000)))", "labelOverlap": false, "labelFlush": false}}, "y": {"field": "v", "type": "quantitative", "scale": {"domain": [-1, 2], "nice": false, "zero": false}, "axis": {"orient": "left", "values": [-1,-0.5,0,0.5,1,1.5,2], "labels": false}}, "color": {"field": "k", "type": "nominal", "scale": {"domain": ["N", "D", "S"], "range": ["#1c6aaa", "#b7323c", "#f6c762"]}, "legend": {"orient": "none", "legendX": 71, "legendY": -63, "direction": "horizontal", "title": null, "symbolType": "stroke", "symbolStrokeWidth": 3.5, "symbolSize": 930, "labelFont": "Roboto", "labelFontSize": 16, "labelColor": "#222", "labelOffset": 10, "columnPadding": 66, "labelExpr": "datum.label == 'N' ? 'No policies scenario' : datum.label == 'D' ? 'Disruptive adjustment' : 'Strengthened policies'"}}}},
  {"data": {"name": "d"}, "transform": [{"filter": "datum.p == 6"}], "mark": {"type": "line", "opacity": 0}, "encoding": {"x": {"field": "y", "type": "quantitative", "scale": {"domain": [1994.6, 2015.4], "nice": false, "zero": false}, "axis": {"values": [1995,1996,1997,1998,1999,2000,2001,2002,2003,2004,2005,2006,2007,2008,2009,2010,2011,2012,2013,2014,2015], "labelExpr": "datum.value % 5 != 0 ? '' : (datum.value < 2001 ? '' + datum.value : (datum.value == 2005 ? '05' : '' + (datum.value - 2000)))", "labelOverlap": false, "labelFlush": false}}, "y": {"field": "v", "type": "quantitative", "scale": {"domain": [-1, 2], "nice": false, "zero": false}, "axis": {"orient": "right", "values": [-1,-0.5,0,0.5,1,1.5,2], "labelExpr": "datum.value % 1 === 0 ? '' + datum.value : ''"}}, "detail": {"field": "k"}}}
 ], "resolve": {"scale": {"y": "independent"}, "axis": {"y": "independent"}}}
]},
{"title": {"text": "Real Effective Exchange Rate (percent change; increase = depreciation; 1990 = 100)", "anchor": "middle", "fontSize": 14, "font": "DejaVu Sans", "fontWeight": "bold", "color": "#111", "offset": 8},
 "spacing": 20,
 "resolve": {"scale": {"color": "shared"}, "legend": {"color": "shared"}},
 "hconcat": [
 {"width": 268, "height": 132, "layer": [
  {"data": {"values": [{"a": 2005, "b": 2015.05}]}, "mark": {"type": "rect", "color": "#d3d4d8"}, "encoding": {"x": {"field": "a", "type": "quantitative", "scale": {"domain": [1994.6, 2015.4], "nice": false, "zero": false}, "axis": {"values": [1995,1996,1997,1998,1999,2000,2001,2002,2003,2004,2005,2006,2007,2008,2009,2010,2011,2012,2013,2014,2015], "labelExpr": "datum.value % 5 != 0 ? '' : (datum.value < 2001 ? '' + datum.value : (datum.value == 2005 ? '05' : '' + (datum.value - 2000)))", "labelOverlap": false, "labelFlush": false}}, "x2": {"field": "b"}}},
  {"data": {"name": "d"}, "transform": [{"filter": "datum.p == 7"}], "mark": {"type": "line", "strokeWidth": 2.7}, "encoding": {"x": {"field": "y", "type": "quantitative", "scale": {"domain": [1994.6, 2015.4], "nice": false, "zero": false}, "axis": {"values": [1995,1996,1997,1998,1999,2000,2001,2002,2003,2004,2005,2006,2007,2008,2009,2010,2011,2012,2013,2014,2015], "labelExpr": "datum.value % 5 != 0 ? '' : (datum.value < 2001 ? '' + datum.value : (datum.value == 2005 ? '05' : '' + (datum.value - 2000)))", "labelOverlap": false, "labelFlush": false}}, "y": {"field": "v", "type": "quantitative", "scale": {"domain": [70, 110], "nice": false, "zero": false}, "axis": {"orient": "left", "values": [70,75,80,85,90,95,100,105,110], "labelExpr": "datum.value % 10 === 0 ? '' + datum.value : ''"}}, "color": {"field": "k", "type": "nominal", "scale": {"domain": ["N", "D", "S"], "range": ["#1c6aaa", "#b7323c", "#f6c762"]}, "legend": {"orient": "none", "legendX": 71, "legendY": -63, "direction": "horizontal", "title": null, "symbolType": "stroke", "symbolStrokeWidth": 3.5, "symbolSize": 930, "labelFont": "Roboto", "labelFontSize": 16, "labelColor": "#222", "labelOffset": 10, "columnPadding": 66, "labelExpr": "datum.label == 'N' ? 'No policies scenario' : datum.label == 'D' ? 'Disruptive adjustment' : 'Strengthened policies'"}}}},
  {"data": {"name": "d"}, "transform": [{"filter": "datum.p == 7"}], "mark": {"type": "line", "opacity": 0}, "encoding": {"x": {"field": "y", "type": "quantitative", "scale": {"domain": [1994.6, 2015.4], "nice": false, "zero": false}, "axis": {"values": [1995,1996,1997,1998,1999,2000,2001,2002,2003,2004,2005,2006,2007,2008,2009,2010,2011,2012,2013,2014,2015], "labelExpr": "datum.value % 5 != 0 ? '' : (datum.value < 2001 ? '' + datum.value : (datum.value == 2005 ? '05' : '' + (datum.value - 2000)))", "labelOverlap": false, "labelFlush": false}}, "y": {"field": "v", "type": "quantitative", "scale": {"domain": [70, 110], "nice": false, "zero": false}, "axis": {"orient": "right", "values": [70,75,80,85,90,95,100,105,110], "labels": false}}, "detail": {"field": "k"}}}
 ], "resolve": {"scale": {"y": "independent"}, "axis": {"y": "independent"}}},
 {"width": 260, "height": 132, "layer": [
  {"data": {"values": [{"a": 2005, "b": 2015.05}]}, "mark": {"type": "rect", "color": "#d3d4d8"}, "encoding": {"x": {"field": "a", "type": "quantitative", "scale": {"domain": [1994.6, 2015.4], "nice": false, "zero": false}, "axis": {"values": [1995,1996,1997,1998,1999,2000,2001,2002,2003,2004,2005,2006,2007,2008,2009,2010,2011,2012,2013,2014,2015], "labelExpr": "datum.value % 5 != 0 ? '' : (datum.value < 2001 ? '' + datum.value : (datum.value == 2005 ? '05' : '' + (datum.value - 2000)))", "labelOverlap": false, "labelFlush": false}}, "x2": {"field": "b"}}},
  {"data": {"name": "d"}, "transform": [{"filter": "datum.p == 8"}], "mark": {"type": "line", "strokeWidth": 2.7}, "encoding": {"x": {"field": "y", "type": "quantitative", "scale": {"domain": [1994.6, 2015.4], "nice": false, "zero": false}, "axis": {"values": [1995,1996,1997,1998,1999,2000,2001,2002,2003,2004,2005,2006,2007,2008,2009,2010,2011,2012,2013,2014,2015], "labelExpr": "datum.value % 5 != 0 ? '' : (datum.value < 2001 ? '' + datum.value : (datum.value == 2005 ? '05' : '' + (datum.value - 2000)))", "labelOverlap": false, "labelFlush": false}}, "y": {"field": "v", "type": "quantitative", "scale": {"domain": [100, 130], "nice": false, "zero": false}, "axis": {"orient": "left", "values": [100,105,110,115,120,125,130], "labels": false}}, "color": {"field": "k", "type": "nominal", "scale": {"domain": ["N", "D", "S"], "range": ["#1c6aaa", "#b7323c", "#f6c762"]}, "legend": {"orient": "none", "legendX": 71, "legendY": -63, "direction": "horizontal", "title": null, "symbolType": "stroke", "symbolStrokeWidth": 3.5, "symbolSize": 930, "labelFont": "Roboto", "labelFontSize": 16, "labelColor": "#222", "labelOffset": 10, "columnPadding": 66, "labelExpr": "datum.label == 'N' ? 'No policies scenario' : datum.label == 'D' ? 'Disruptive adjustment' : 'Strengthened policies'"}}}},
  {"data": {"name": "d"}, "transform": [{"filter": "datum.p == 8"}], "mark": {"type": "line", "opacity": 0}, "encoding": {"x": {"field": "y", "type": "quantitative", "scale": {"domain": [1994.6, 2015.4], "nice": false, "zero": false}, "axis": {"values": [1995,1996,1997,1998,1999,2000,2001,2002,2003,2004,2005,2006,2007,2008,2009,2010,2011,2012,2013,2014,2015], "labelExpr": "datum.value % 5 != 0 ? '' : (datum.value < 2001 ? '' + datum.value : (datum.value == 2005 ? '05' : '' + (datum.value - 2000)))", "labelOverlap": false, "labelFlush": false}}, "y": {"field": "v", "type": "quantitative", "scale": {"domain": [100, 130], "nice": false, "zero": false}, "axis": {"orient": "right", "values": [100,105,110,115,120,125,130], "labelExpr": "datum.value % 10 === 0 ? '' + datum.value : ''"}}, "detail": {"field": "k"}}}
 ], "resolve": {"scale": {"y": "independent"}, "axis": {"y": "independent"}}},
 {"width": 265, "height": 132, "layer": [
  {"data": {"values": [{"a": 2005, "b": 2015.05}]}, "mark": {"type": "rect", "color": "#d3d4d8"}, "encoding": {"x": {"field": "a", "type": "quantitative", "scale": {"domain": [1994.6, 2015.4], "nice": false, "zero": false}, "axis": {"values": [1995,1996,1997,1998,1999,2000,2001,2002,2003,2004,2005,2006,2007,2008,2009,2010,2011,2012,2013,2014,2015], "labelExpr": "datum.value % 5 != 0 ? '' : (datum.value < 2001 ? '' + datum.value : (datum.value == 2005 ? '05' : '' + (datum.value - 2000)))", "labelOverlap": false, "labelFlush": false}}, "x2": {"field": "b"}}},
  {"data": {"name": "d"}, "transform": [{"filter": "datum.p == 9"}], "mark": {"type": "line", "strokeWidth": 2.7}, "encoding": {"x": {"field": "y", "type": "quantitative", "scale": {"domain": [1994.6, 2015.4], "nice": false, "zero": false}, "axis": {"values": [1995,1996,1997,1998,1999,2000,2001,2002,2003,2004,2005,2006,2007,2008,2009,2010,2011,2012,2013,2014,2015], "labelExpr": "datum.value % 5 != 0 ? '' : (datum.value < 2001 ? '' + datum.value : (datum.value == 2005 ? '05' : '' + (datum.value - 2000)))", "labelOverlap": false, "labelFlush": false}}, "y": {"field": "v", "type": "quantitative", "scale": {"domain": [80, 110], "nice": false, "zero": false}, "axis": {"orient": "left", "values": [80,85,90,95,100,105,110], "labels": false}}, "color": {"field": "k", "type": "nominal", "scale": {"domain": ["N", "D", "S"], "range": ["#1c6aaa", "#b7323c", "#f6c762"]}, "legend": {"orient": "none", "legendX": 71, "legendY": -63, "direction": "horizontal", "title": null, "symbolType": "stroke", "symbolStrokeWidth": 3.5, "symbolSize": 930, "labelFont": "Roboto", "labelFontSize": 16, "labelColor": "#222", "labelOffset": 10, "columnPadding": 66, "labelExpr": "datum.label == 'N' ? 'No policies scenario' : datum.label == 'D' ? 'Disruptive adjustment' : 'Strengthened policies'"}}}},
  {"data": {"name": "d"}, "transform": [{"filter": "datum.p == 9"}], "mark": {"type": "line", "opacity": 0}, "encoding": {"x": {"field": "y", "type": "quantitative", "scale": {"domain": [1994.6, 2015.4], "nice": false, "zero": false}, "axis": {"values": [1995,1996,1997,1998,1999,2000,2001,2002,2003,2004,2005,2006,2007,2008,2009,2010,2011,2012,2013,2014,2015], "labelExpr": "datum.value % 5 != 0 ? '' : (datum.value < 2001 ? '' + datum.value : (datum.value == 2005 ? '05' : '' + (datum.value - 2000)))", "labelOverlap": false, "labelFlush": false}}, "y": {"field": "v", "type": "quantitative", "scale": {"domain": [80, 110], "nice": false, "zero": false}, "axis": {"orient": "right", "values": [80,85,90,95,100,105,110], "labelExpr": "datum.value % 10 === 0 ? '' + datum.value : ''"}}, "detail": {"field": "k"}}}
 ], "resolve": {"scale": {"y": "independent"}, "axis": {"y": "independent"}}}
]}
]}
]
}
